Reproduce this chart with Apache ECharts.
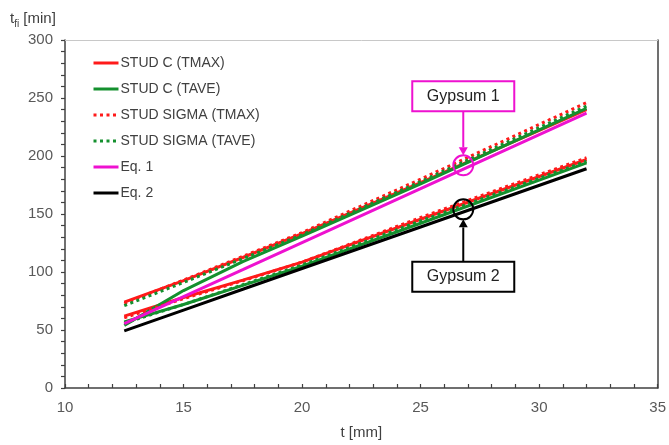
<!DOCTYPE html>
<html>
<head>
<meta charset="utf-8">
<script src="https://cdn.jsdelivr.net/npm/echarts@6/dist/echarts.min.js"></script>
<style>
  html, body { margin: 0; padding: 0; background: #fff; }
  #chart { width: 669px; height: 445px; }
</style>
</head>
<body>
<div id="chart"></div>
<script>
// Gypsum board thickness t [mm] at which each curve is sampled
const thickness = [12.5, 15, 17.5, 20, 25, 32];

// Fire resistance t_fi [min] - Gypsum 1
const studC_tmax_g1     = [74, 92.5, 112.5, 133, 177, 240];
const studC_tave_g1     = [54, 84, 109, 131, 176, 241];
const studSigma_tmax_g1 = [73, 93, 113.5, 134, 180, 246];
const studSigma_tave_g1 = [71, 91, 111.5, 132, 178, 243];
const eq1               = [55.5, 78.8, 102, 125.3, 171.8, 237];

// Fire resistance t_fi [min] - Gypsum 2
const studC_tmax_g2     = [62, 78, 93, 108.5, 145.5, 197];
const studC_tave_g2     = [57, 72, 88.5, 105, 142, 194];
const studSigma_tmax_g2 = [60.5, 77, 92.5, 108.5, 147, 198.5];
const studSigma_tave_g2 = [56, 72, 89, 106, 144, 195.5];
const eq2               = [49.3, 67.2, 85.1, 103, 138.8, 189];

// Legend entries (each shared by the Gypsum 1 and Gypsum 2 curves)
const legendNames = ['STUD C (TMAX)', 'STUD C (TAVE)', 'STUD SIGMA (TMAX)', 'STUD SIGMA (TAVE)', 'Eq. 1', 'Eq. 2'];

// Axis ranges
const xTicks = [10, 15, 20, 25, 30, 35];
const yTicks = [0, 50, 100, 150, 200, 250, 300];

// Callouts: label, marked point on the curve, label box centre (axis units)
const callouts = [
  { text: 'Gypsum 1', point: [26.8, 192], box: [26.8, 251.5], color: '#ee11d0', up: false },
  { text: 'Gypsum 2', point: [26.8, 154], box: [26.8, 96],  color: '#000000', up: true }
];

const RED = '#ff1a1a', GREEN = '#14902e', MAGENTA = '#ee11d0', BLACK = '#000000';

function pairs(vals) { return thickness.map((t, i) => [t, vals[i]]); }

function makeSeries(name, vals, color, dotted) {
  return {
    name: name,
    type: 'line',
    data: pairs(vals),
    symbol: 'none',
    smooth: false,
    color: color,
    lineStyle: { color: color, width: 3, type: dotted ? [3, 3.5] : 'solid' },
    z: dotted ? 4 : 3
  };
}

const series = [
  makeSeries(legendNames[0], studC_tmax_g1, RED, false),
  makeSeries(legendNames[0], studC_tmax_g2, RED, false),
  makeSeries(legendNames[1], studC_tave_g1, GREEN, false),
  makeSeries(legendNames[1], studC_tave_g2, GREEN, false),
  makeSeries(legendNames[2], studSigma_tmax_g1, RED, true),
  makeSeries(legendNames[2], studSigma_tmax_g2, RED, true),
  makeSeries(legendNames[3], studSigma_tave_g1, GREEN, true),
  makeSeries(legendNames[3], studSigma_tave_g2, GREEN, true),
  makeSeries(legendNames[4], eq1, MAGENTA, false),
  makeSeries(legendNames[5], eq2, BLACK, false)
];
series[8].z = 5;
series[9].z = 5;

const chart = echarts.init(document.getElementById('chart'), null, { renderer: 'canvas' });

const FONT = 'Liberation Sans, Arial, sans-serif';

chart.setOption({
  animation: false,
  backgroundColor: '#ffffff',
  grid: { left: 65, right: 9, top: 40, bottom: 52, containLabel: false },
  title: {
    left: 5, top: 4,
    text: '{t|t}{s|fi}{t| [min]}',
    textStyle: {
      fontWeight: 'normal',
      rich: {
        t: { fontFamily: FONT, fontSize: 15, fontWeight: 'normal', color: '#404040' },
        s: { fontFamily: FONT, fontSize: 10, fontWeight: 'normal', color: '#404040', padding: [10, 0, 0, 0] }
      }
    }
  },
  legend: {
    data: legendNames,
    orient: 'vertical',
    left: 87, top: 51,
    itemWidth: 25, itemHeight: 14, itemGap: 12,
    itemStyle: { opacity: 0 },
    lineStyle: { width: 3 },
    textStyle: { fontFamily: FONT, fontSize: 14, color: '#404040', padding: [0, 0, 0, -3] },
    selectedMode: false
  },
  xAxis: [{
    type: 'value',
    min: xTicks[0], max: xTicks[xTicks.length - 1], interval: 5,
    name: 't [mm]', nameLocation: 'middle', nameGap: 37,
    nameTextStyle: { fontFamily: FONT, fontSize: 15, color: '#404040' },
    axisLine: { show: true, onZero: false, lineStyle: { color: '#404040', width: 1.5 } },
    axisTick: { show: true, inside: true, length: 4, lineStyle: { color: '#404040', width: 1.2 } },
    minorTick: { show: true, splitNumber: 5, length: 4, lineStyle: { color: '#404040', width: 1.2 } },
    axisLabel: { fontFamily: FONT, fontSize: 15, color: '#595959', margin: 12 },
    splitLine: { show: false }
  }, {
    type: 'value', position: 'top',
    min: xTicks[0], max: xTicks[xTicks.length - 1],
    axisLine: { show: true, onZero: false, lineStyle: { color: '#c8c8c8', width: 1 } },
    axisTick: { show: false }, axisLabel: { show: false }, splitLine: { show: false }
  }],
  yAxis: [{
    type: 'value',
    min: yTicks[0], max: yTicks[yTicks.length - 1], interval: 50,
    axisLine: { show: true, onZero: false, lineStyle: { color: '#404040', width: 1.5 } },
    axisTick: { show: true, inside: false, length: 4, lineStyle: { color: '#404040', width: 1.2 } },
    minorTick: { show: true, splitNumber: 5, length: 4, lineStyle: { color: '#404040', width: 1.2 } },
    axisLabel: { fontFamily: FONT, fontSize: 15, color: '#595959', margin: 12 },
    splitLine: { show: false }
  }, {
    type: 'value', position: 'right',
    min: yTicks[0], max: yTicks[yTicks.length - 1],
    axisLine: { show: true, onZero: false, lineStyle: { color: '#404040', width: 1.5 } },
    axisTick: { show: false }, axisLabel: { show: false }, splitLine: { show: false }
  }],
  series: series
});

// Callout boxes, arrows and ring markers placed through the axis scales
const graphics = [];
const R = 10, BOX_W = 102, BOX_H = 30, HEAD = 8;
callouts.forEach(c => {
  const p = chart.convertToPixel({ xAxisIndex: 0, yAxisIndex: 0 }, c.point);
  const b = chart.convertToPixel({ xAxisIndex: 0, yAxisIndex: 0 }, c.box);
  graphics.push({
    type: 'circle', shape: { cx: p[0], cy: p[1], r: R },
    style: { fill: 'none', stroke: c.color, lineWidth: 2 }, z: 100
  });
  graphics.push({
    type: 'rect', shape: { x: b[0] - BOX_W / 2, y: b[1] - BOX_H / 2, width: BOX_W, height: BOX_H },
    style: { fill: '#ffffff', stroke: c.color, lineWidth: 2 }, z: 100
  });
  graphics.push({
    type: 'text', x: b[0], y: b[1],
    style: { text: c.text, fill: '#222', font: '16px ' + FONT, textAlign: 'center', textVerticalAlign: 'middle' },
    z: 101
  });
  // arrow from the box edge to the ring edge
  const y0 = c.up ? b[1] - BOX_H / 2 : b[1] + BOX_H / 2;
  const y1 = c.up ? p[1] + R : p[1] - R;
  const dir = c.up ? -1 : 1;
  graphics.push({
    type: 'line', shape: { x1: b[0], y1: y0, x2: p[0], y2: y1 - dir * HEAD },
    style: { stroke: c.color, lineWidth: 2 }, z: 100
  });
  graphics.push({
    type: 'polygon',
    shape: { points: [[p[0], y1], [p[0] - 4.5, y1 - dir * HEAD], [p[0] + 4.5, y1 - dir * HEAD]] },
    style: { fill: c.color }, z: 100
  });
});
chart.setOption({ graphic: graphics });
</script>
</body>
</html>
